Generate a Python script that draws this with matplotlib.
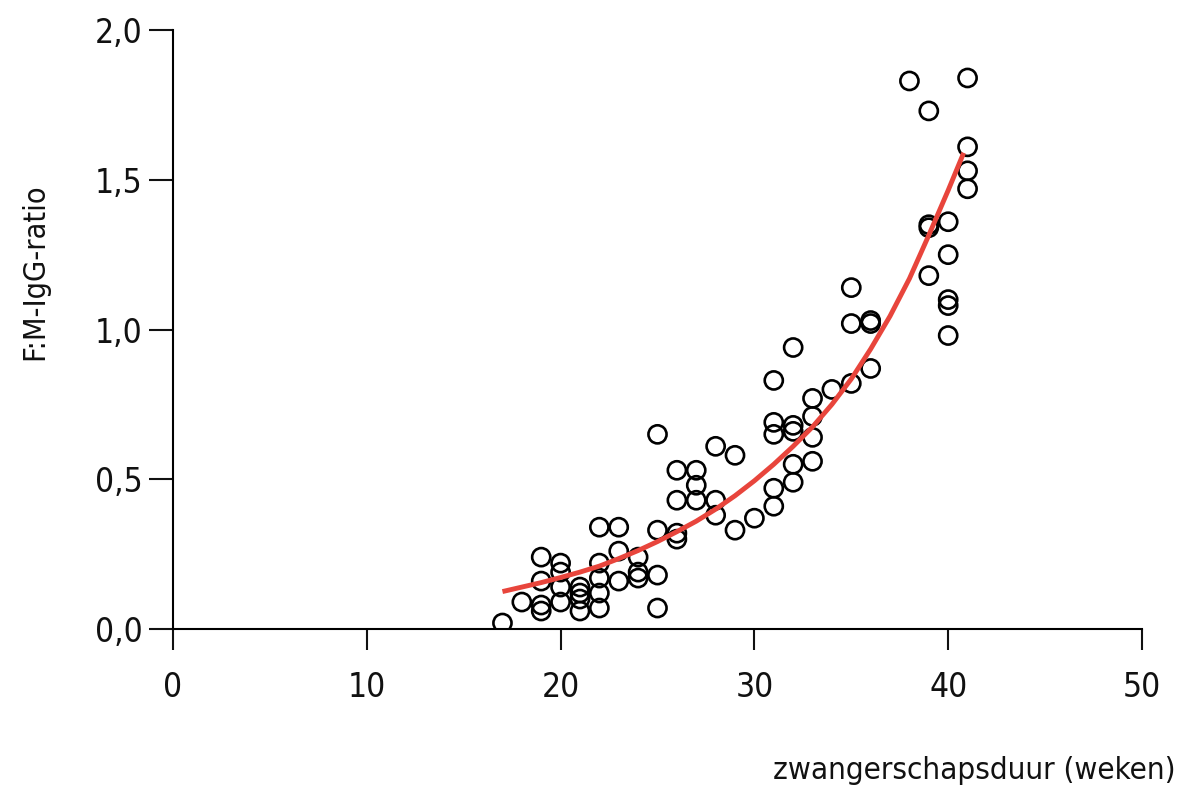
import matplotlib
matplotlib.use('Agg')
import matplotlib.pyplot as plt
from matplotlib.ticker import FuncFormatter

plt.rcParams['font.family'] = ['DejaVu Sans']
plt.rcParams['font.stretch'] = 'condensed'

# meetpunten (weken, F:M-ratio)
weeks = [17, 18,
         19, 19, 19, 19,
         20, 20, 20, 20,
         21, 21, 21, 21,
         22, 22, 22, 22, 22,
         23, 23, 23,
         24, 24, 24,
         25, 25, 25, 25,
         26, 26, 26, 26,
         27, 27, 27,
         28, 28, 28,
         29, 29,
         30,
         31, 31, 31, 31, 31,
         32, 32, 32, 32, 32,
         33, 33, 33, 33,
         34,
         35, 35, 35,
         36, 36, 36,
         38,
         39, 39, 39, 39,
         40, 40, 40, 40, 40,
         41, 41, 41, 41]
ratio = [0.02, 0.09,
         0.24, 0.16, 0.08, 0.06,
         0.22, 0.19, 0.14, 0.09,
         0.14, 0.12, 0.10, 0.06,
         0.34, 0.22, 0.17, 0.12, 0.07,
         0.34, 0.26, 0.16,
         0.24, 0.19, 0.17,
         0.65, 0.33, 0.18, 0.07,
         0.53, 0.43, 0.32, 0.30,
         0.53, 0.48, 0.43,
         0.61, 0.43, 0.38,
         0.58, 0.33,
         0.37,
         0.83, 0.69, 0.65, 0.47, 0.41,
         0.94, 0.68, 0.66, 0.55, 0.49,
         0.77, 0.71, 0.64, 0.56,
         0.80,
         1.14, 1.02, 0.82,
         1.03, 1.02, 0.87,
         1.83,
         1.73, 1.35, 1.34, 1.18,
         1.36, 1.25, 1.10, 1.08, 0.98,
         1.84, 1.61, 1.53, 1.47]

# trendlijn
fit_weeks = [17, 18, 19, 20, 21, 22, 23, 24, 25, 26, 27, 28, 29,
             30, 31, 32, 33, 34, 35, 36, 37, 38, 39, 40, 40.8]
fit_ratio = [0.125, 0.14, 0.155, 0.172, 0.19, 0.21, 0.235, 0.262, 0.292, 0.325, 0.36, 0.40, 0.445,
             0.495, 0.55, 0.61, 0.675, 0.75, 0.835, 0.935, 1.045, 1.17, 1.315, 1.465, 1.59]

xticks = [0, 10, 20, 30, 40, 50]
yticks = [0.0, 0.5, 1.0, 1.5, 2.0]

fig = plt.figure(figsize=(11.85, 7.91), dpi=100)
ax = fig.add_axes([0.146, 0.2048, 0.8177, 0.7572])

ax.plot(fit_weeks, fit_ratio, color='#e8453c', lw=3.5, solid_capstyle='butt',
        solid_joinstyle='round', zorder=3)
ax.scatter(weeks, ratio, s=170, facecolors='none', edgecolors='black', linewidths=1.9, zorder=2)

ax.set_xlim(0, 50)
ax.set_ylim(0, 2.0)
ax.set_xticks(xticks)
ax.set_yticks(yticks)
ax.yaxis.set_major_formatter(FuncFormatter(lambda v, p: ('%.1f' % v).replace('.', ',')))

for s in ['top', 'right']:
    ax.spines[s].set_visible(False)
for s in ['left', 'bottom']:
    ax.spines[s].set_linewidth(1.5)

ax.tick_params(axis='both', direction='out', width=1.5, labelsize=24, colors='#111111')
ax.tick_params(axis='x', length=15, pad=15)
ax.tick_params(axis='y', length=17, pad=5)

fig.text(0.0295, 0.656, 'F:M-IgG-ratio', rotation=90, ha='center', va='center',
         fontsize=22, color='#111111')
fig.text(0.992, 0.008, 'zwangerschapsduur (weken)', ha='right', va='bottom',
         fontsize=22.5, color='#111111')

fig.savefig('out.png', dpi=100)
